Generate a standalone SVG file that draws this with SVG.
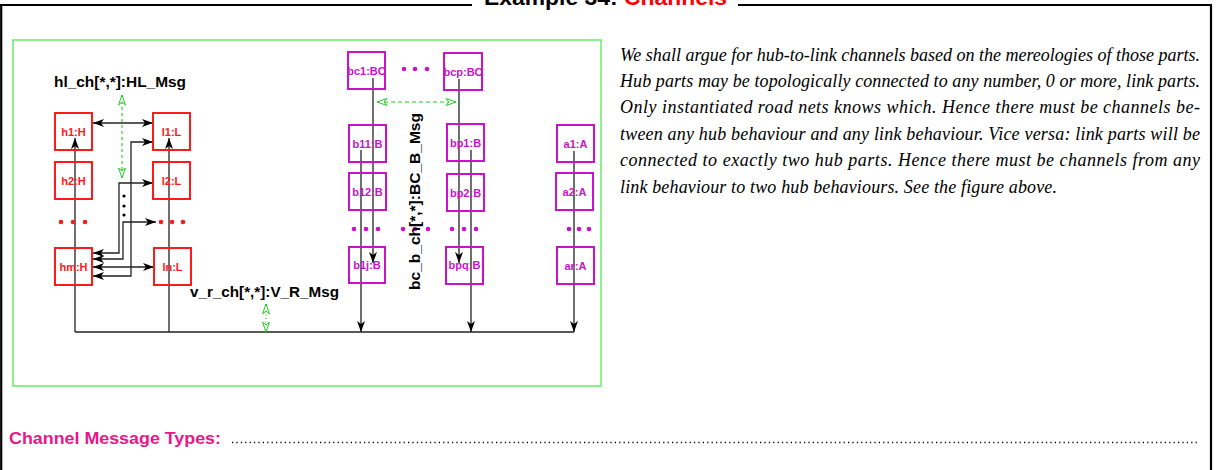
<svg xmlns="http://www.w3.org/2000/svg" width="1219" height="470" viewBox="0 0 1219 470">
<style>
.frame{stroke:#000;stroke-width:2.2;fill:none}
.rbox{fill:none;stroke:#ff1a1a;stroke-width:2}
.mbox{fill:none;stroke:#cc11cc;stroke-width:2}
.rl{font-family:"Liberation Sans",Arial,sans-serif;font-weight:bold;font-size:11px;fill:#ff1a1a;text-anchor:middle}
.ml{font-family:"Liberation Sans",Arial,sans-serif;font-weight:bold;font-size:11px;fill:#cc11cc;text-anchor:middle}
.lbl{font-family:"Liberation Sans",Arial,sans-serif;font-weight:bold;font-size:15.4px;fill:#000}
.ln{fill:none;stroke:#222;stroke-width:1.3}
.g{fill:none;stroke:#22cc22;stroke-width:1.1}
.para{font-family:"Liberation Serif","Times New Roman",serif;font-style:italic;font-size:18px;fill:#000}
.rd{fill:#ff1a1a}
.md{fill:#cc11cc}
</style>
<defs>
<marker id="ah" markerUnits="userSpaceOnUse" markerWidth="12" markerHeight="8" refX="11" refY="4" orient="auto-start-reverse" viewBox="0 0 12 8">
<path d="M0,0 L11,4 L0,8 L3,4 Z" fill="#000"/>
</marker>
<marker id="ga" markerUnits="userSpaceOnUse" markerWidth="12" markerHeight="8" refX="10.5" refY="4" orient="auto-start-reverse" viewBox="0 0 12 8">
<path d="M0.5,0.5 L10.5,4 L0.5,7.5 L3.5,4 Z" fill="#fff" stroke="#22cc22" stroke-width="1"/>
</marker>
</defs>

<g id="frame">
<line class="frame" x1="0" y1="5" x2="472" y2="5"/>
<line class="frame" x1="738" y1="5" x2="1212" y2="5"/>
<line class="frame" x1="1.2" y1="5" x2="1.2" y2="470"/>
<line class="frame" x1="1211" y1="5" x2="1211" y2="470"/>
<text x="484" y="5" font-family="'Liberation Sans',Arial,sans-serif" font-weight="bold" font-size="22" textLength="243" lengthAdjust="spacingAndGlyphs"><tspan fill="#000">Example 34: </tspan><tspan fill="#ff0000">Channels</tspan></text>
</g>

<rect id="figbox" x="13" y="40" width="588" height="346" fill="none" stroke="#66ee66" stroke-width="1.5"/>

<g id="connectors">
<line class="ln" x1="75" y1="332" x2="574" y2="332"/>
<line class="ln" x1="75" y1="332" x2="75" y2="138" marker-end="url(#ah)"/>
<line class="ln" x1="169" y1="332" x2="169" y2="138" marker-end="url(#ah)"/>
<line class="ln" x1="361" y1="150" x2="361" y2="332" marker-end="url(#ah)"/>
<line class="ln" x1="471" y1="150" x2="471" y2="332" marker-end="url(#ah)"/>
<line class="ln" x1="574" y1="151" x2="574" y2="332" marker-end="url(#ah)"/>
<line class="ln" x1="373" y1="78" x2="373" y2="263" marker-end="url(#ah)"/>
<line class="ln" x1="459" y1="79" x2="459" y2="263" marker-end="url(#ah)"/>
<line class="ln" x1="93" y1="123" x2="153" y2="123" marker-start="url(#ah)" marker-end="url(#ah)"/>
<path class="ln" d="M93,276 H131 V142 H153" marker-start="url(#ah)" marker-end="url(#ah)"/>
<path class="ln" d="M93,253 H119 V183 H153" marker-start="url(#ah)" marker-end="url(#ah)"/>
<path class="ln" d="M93,259 H123 V222 H156" marker-start="url(#ah)" marker-end="url(#ah)"/>
<line class="ln" x1="93" y1="267" x2="154" y2="267" marker-start="url(#ah)" marker-end="url(#ah)"/>
<line class="g" x1="122" y1="95" x2="122" y2="178" stroke-dasharray="3,3" marker-start="url(#ga)" marker-end="url(#ga)"/>
<line class="g" x1="377" y1="102" x2="456" y2="102" stroke-dasharray="4,3" marker-start="url(#ga)" marker-end="url(#ga)"/>
<line class="g" x1="266" y1="304" x2="266" y2="332" stroke-dasharray="1,2.5" marker-start="url(#ga)" marker-end="url(#ga)"/>
<circle cx="124" cy="196" r="1.6" fill="#000"/>
<circle cx="124" cy="206" r="1.6" fill="#000"/>
<circle cx="124" cy="215" r="1.6" fill="#000"/>
</g>

<g id="h1"><rect class="rbox" x="55" y="113" width="37" height="37"/><text class="rl" x="73.5" y="135.5">h1:H</text></g>
<g id="l1"><rect class="rbox" x="153" y="113" width="37" height="37"/><text class="rl" x="171.5" y="135.5">l1:L</text></g>
<g id="h2"><rect class="rbox" x="55" y="162" width="37" height="37"/><text class="rl" x="73.5" y="184.5">h2:H</text></g>
<g id="l2"><rect class="rbox" x="153" y="162" width="37" height="37"/><text class="rl" x="171.5" y="184.5">l2:L</text></g>
<g id="hm"><rect class="rbox" x="55" y="248" width="37" height="37"/><text class="rl" x="73.5" y="270.5">hm:H</text></g>
<g id="ln"><rect class="rbox" x="154" y="248" width="37" height="37"/><text class="rl" x="172.5" y="270.5">ln:L</text></g>
<g id="reddots">
<circle class="rd" cx="61" cy="222" r="2.3"/><circle class="rd" cx="73" cy="222" r="2.3"/><circle class="rd" cx="85" cy="222" r="2.3"/>
<circle class="rd" cx="161" cy="222" r="2.3"/><circle class="rd" cx="172" cy="222" r="2.3"/><circle class="rd" cx="183" cy="222" r="2.3"/>
</g>

<g id="bc1"><rect class="mbox" x="348" y="52" width="37" height="37"/><text class="ml" x="366.5" y="74.5">bc1:BC</text></g>
<g id="bcp"><rect class="mbox" x="444" y="53" width="38" height="37"/><text class="ml" x="463" y="75.5">bcp:BC</text></g>
<g id="b11"><rect class="mbox" x="349" y="125" width="37" height="37"/><text class="ml" x="367.5" y="147.5">b11:B</text></g>
<g id="bp1"><rect class="mbox" x="447" y="124" width="37" height="37"/><text class="ml" x="465.5" y="146.5">bp1:B</text></g>
<g id="a1"><rect class="mbox" x="557" y="125" width="37" height="37"/><text class="ml" x="575.5" y="147.5">a1:A</text></g>
<g id="b12"><rect class="mbox" x="349" y="173" width="37" height="37"/><text class="ml" x="367.5" y="195.5">b12:B</text></g>
<g id="bp2"><rect class="mbox" x="447" y="174" width="37" height="37"/><text class="ml" x="465.5" y="196.5">bp2:B</text></g>
<g id="a2"><rect class="mbox" x="556" y="173" width="37" height="37"/><text class="ml" x="574.5" y="195.5">a2:A</text></g>
<g id="b1j"><rect class="mbox" x="349" y="247" width="36" height="36"/><text class="ml" x="367" y="269">b1j:B</text></g>
<g id="bpq"><rect class="mbox" x="446" y="247" width="37" height="37"/><text class="ml" x="464.5" y="269">bpq:B</text></g>
<g id="ar"><rect class="mbox" x="557" y="247" width="37" height="37"/><text class="ml" x="575.5" y="270">ar:A</text></g>
<g id="magdots">
<circle class="md" cx="404" cy="69" r="2.3"/><circle class="md" cx="415" cy="69" r="2.3"/><circle class="md" cx="427" cy="69" r="2.3"/>
<circle class="md" cx="354" cy="229" r="2.3"/><circle class="md" cx="366" cy="229" r="2.3"/><circle class="md" cx="378" cy="229" r="2.3"/>
<circle class="md" cx="403" cy="229" r="2.3"/><circle class="md" cx="415" cy="229" r="2.3"/><circle class="md" cx="428" cy="229" r="2.3"/>
<circle class="md" cx="452" cy="229" r="2.3"/><circle class="md" cx="464" cy="229" r="2.3"/><circle class="md" cx="476" cy="229" r="2.3"/>
<circle class="md" cx="569" cy="229" r="2.3"/><circle class="md" cx="579" cy="229" r="2.3"/><circle class="md" cx="589" cy="229" r="2.3"/>
</g>

<g id="labels">
<text class="lbl" x="54" y="87" textLength="132" lengthAdjust="spacingAndGlyphs">hl_ch[*,*]:HL_Msg</text>
<text class="lbl" x="190" y="297" textLength="149" lengthAdjust="spacingAndGlyphs">v_r_ch[*,*]:V_R_Msg</text>
<text class="lbl" transform="translate(420,290) rotate(-90)" x="0" y="0" textLength="177" lengthAdjust="spacingAndGlyphs">bc_b_ch[*,*]:BC_B_Msg</text>
</g>

<g id="paragraph">
<text class="para" x="620" y="61" textLength="580" lengthAdjust="spacingAndGlyphs">We shall argue for hub-to-link channels based on the mereologies of those parts.</text>
<text class="para" x="620" y="87" textLength="580" lengthAdjust="spacing">Hub parts may be topologically connected to any number, 0 or more, link parts.</text>
<text class="para" x="620" y="113" textLength="580" lengthAdjust="spacing">Only instantiated road nets knows which. Hence there must be channels be-</text>
<text class="para" x="620" y="139.5" textLength="580" lengthAdjust="spacing">tween any hub behaviour and any link behaviour. Vice versa: link parts will be</text>
<text class="para" x="620" y="166" textLength="580" lengthAdjust="spacing">connected to exactly two hub parts. Hence there must be channels from any</text>
<text class="para" x="620" y="192.5" textLength="437" lengthAdjust="spacing">link behaviour to two hub behaviours. See the figure above.</text>
</g>

<g id="footer">
<text x="9" y="444" font-family="'Liberation Sans',Arial,sans-serif" font-weight="bold" font-size="17" fill="#e8178a" textLength="212" lengthAdjust="spacingAndGlyphs">Channel Message Types:</text>
<line x1="232" y1="442.5" x2="1200" y2="442.5" stroke="#000" stroke-width="1.3" stroke-dasharray="1.2,3.2"/>
</g>
</svg>
